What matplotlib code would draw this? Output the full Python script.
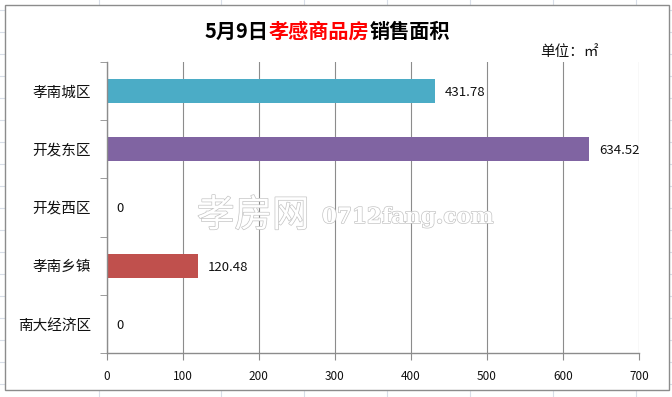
import matplotlib
matplotlib.use("Agg")
import matplotlib.pyplot as plt
import matplotlib.patheffects as pe
from matplotlib.lines import Line2D
from matplotlib.patches import Rectangle
import numpy as np

plt.rcParams['font.family'] = ['Noto Sans CJK SC', 'DejaVu Sans']

categories = ["孝南城区", "开发东区", "开发西区", "孝南乡镇", "南大经济区"]
values = [431.78, 634.52, 0, 120.48, 0]
labels = ["431.78", "634.52", "0", "120.48", "0"]
colors = ["#4BACC6", "#8064A2", "#8064A2", "#C0504D", "#C0504D"]
xticks = [0, 100, 200, 300, 400, 500, 600, 700]
title_parts = [("5月9日", "black"), ("孝感商品房", "#FF0000"), ("销售面积", "black")]

W, H = 672, 397
fig = plt.figure(figsize=(W / 100, H / 100), dpi=100)
fig.patch.set_facecolor("white")

# spreadsheet grid background
for x in [99, 221, 304, 387, 470, 553, 636]:
    fig.add_artist(Line2D([x / W, x / W], [0, 1], color="#D8DEE8", lw=0.8, zorder=0))
for y in range(10, H, 22):
    fig.add_artist(Line2D([0, 1], [1 - y / H, 1 - y / H], color="#D8DEE8", lw=0.8, zorder=0))
# chart area
fig.add_artist(Rectangle((5 / W, 1 - 390 / H), 664 / W, 385 / H, facecolor="white",
                         edgecolor="#8C8C8C", lw=1.0, zorder=1))

ax = fig.add_axes([106.5 / W, 1 - 353 / H, 532.5 / W, 291 / H], zorder=2)
ax.set_facecolor("none")
y = np.arange(len(categories))
ax.barh(y, values, height=0.41, color=colors, zorder=3)
ax.set_xlim(0, 700)
ax.set_ylim(len(categories) - 0.5, -0.5)
ax.set_xticks(xticks)
ax.set_xticklabels([str(t) for t in xticks], fontsize=8.5, color="#111111")
ax.set_yticks(y)
ax.set_yticklabels(categories, fontsize=10.5, color="#111111")
ax.set_yticks(np.arange(-0.5, len(categories)), minor=True)
ax.tick_params(axis="y", which="major", length=0, pad=11)
ax.tick_params(axis="y", which="minor", length=5, color="#8C8C8C", direction="out")
ax.tick_params(axis="x", length=5, color="#8C8C8C", direction="out", pad=7)
ax.grid(axis="x", color="#8C8C8C", lw=0.8, zorder=1)
for s in ["top", "right"]:
    ax.spines[s].set_visible(False)
for s in ["left", "bottom"]:
    ax.spines[s].set_color("#8C8C8C")
    ax.spines[s].set_linewidth(1.0)
ax.spines["left"].set_zorder(4)

for yi, v, lab in zip(y, values, labels):
    ax.annotate(lab, (v, yi), xytext=(7, -1), textcoords="offset points",
                va="center", ha="left", fontsize=9.5, color="#111111", zorder=5)

# watermark
stroke = [pe.withStroke(linewidth=1.0, foreground="#C4C4C4")]
fig.text(197 / W, 1 - 216 / H, "孝房网", fontsize=27, color="white", ha="left", va="center",
         zorder=6, path_effects=stroke)
fig.text(322 / W, 1 - 217 / H, "0712fang.com", fontsize=15.5, color="white", ha="left",
         va="center", zorder=6, family="DejaVu Serif", fontweight="bold", path_effects=stroke)

# title (pieces placed end to end)
renderer = fig.canvas.get_renderer()
tx = 205 / W
for txt, col in title_parts:
    t = fig.text(tx, 1 - 31 / H, txt, fontsize=14.5, fontweight="bold", color=col,
                 va="center", ha="left")
    bb = t.get_window_extent(renderer=renderer)
    tx = bb.x1 / (W)

fig.text(540 / W, 1 - 52 / H, "单位：㎡", fontsize=10.5, color="#111111", va="center", ha="left")

fig.savefig("out.png", dpi=100, facecolor="white")
